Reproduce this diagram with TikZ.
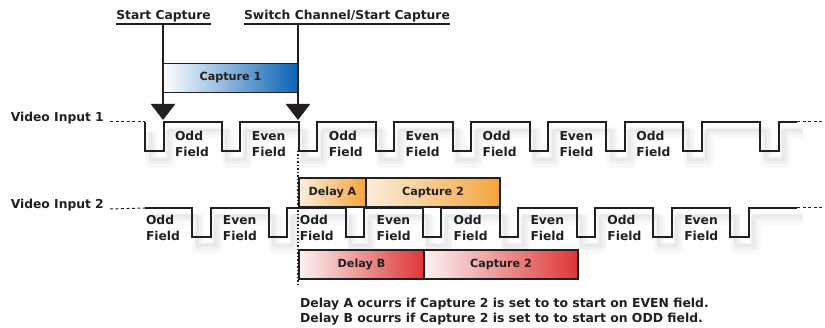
\documentclass[tikz,border=0pt]{standalone}
\usepackage{fontspec}
\setmainfont{DejaVu Sans}
\usetikzlibrary{arrows.meta, positioning, calc}
\definecolor{ink}{HTML}{231F20}
\definecolor{cblue}{HTML}{0B63B5}
\definecolor{corange}{HTML}{F3A43C}
\definecolor{lightorange}{HTML}{FCEEDC}
\definecolor{cred}{HTML}{DE3535}
\definecolor{lightred}{HTML}{FBF3F3}
\definecolor{cshade}{HTML}{8A8A8A}

\tikzset{
  lbl/.style={font=\bfseries\fontsize{12.3}{16}\selectfont, text=ink, inner sep=0pt},
  fieldlbl/.style={lbl, align=left},
  bar/.style={draw=ink, line width=1.8pt, inner sep=0pt, minimum height=29pt,
    font=\bfseries\fontsize{11.2}{13}\selectfont, text=ink},
  wave/.style={draw=ink, line width=2pt},
  shadeA/.style={draw=cshade, line width=12pt, opacity=0.05, line join=round},
  shadeB/.style={draw=cshade, line width=7pt, opacity=0.07, line join=round},
  shadeC/.style={draw=cshade, line width=3pt, opacity=0.08, line join=round},
  lead/.style={draw=ink, line width=1pt, dash pattern=on 3pt off 2.5pt},
  trig/.style={draw=ink, line width=2.6pt, -{Triangle[width=24pt,length=16pt]}},
  uline/.style={draw=ink, line width=1.5pt},
}

\begin{document}
\begin{tikzpicture}[x=1pt, y=-1pt]
  \useasboundingbox (0,0) rectangle (825,328);

  % trigger labels and their underlines
  \node[lbl, anchor=base] (start) at (163.5,19.5) {Start Capture};
  \node[lbl, anchor=base] (switch) at (347,19.5) {Switch Channel/Start Capture};
  \draw[uline] ([yshift=-4.5pt]start.base west) -- ([yshift=-4.5pt]start.base east);
  \draw[uline] ([yshift=-4.5pt]switch.base west) -- ([yshift=-4.5pt]switch.base east);
  \coordinate (u1) at ([yshift=-4.5pt]start.base);
  \coordinate (u2) at ([yshift=-4.5pt]switch.base);
  \coordinate (tip1) at (163,120);
  \coordinate (tip2) at (298,120);
  \draw[trig] (tip1 |- u1) -- (tip1);
  \draw[trig] (tip2 |- u2) -- (tip2);
  \node[bar, minimum width=135pt, left color=white, right color=cblue] (cap1) at (230.5,78) {Capture 1};

  % video input 1
  \node[lbl, anchor=base east] (vin1) at (104,122) {Video Input 1};
  \coordinate (w1) at (145,122);
  \coordinate (e1) at (797,122);
  \foreach \sty/\dx/\dy in {shadeA/6/11, shadeB/6/10, shadeC/5/9, wave/0/0}
    \draw[\sty] (145+\dx,122+\dy)
      \foreach \k in {1,...,8}{ -- ++(0,29) -- ++(18.5,0) -- ++(0,-29) -- ++(58.4,0)}
      -- ++(0,29) -- ++(18.5,0) -- ++(0,-29) -- (797+\dx,122+\dy);
  \draw[lead] ([xshift=6pt]vin1.base east) -- (w1);
  \draw[lead] (e1) -- ++(28,0);
  \foreach \k/\t in {0/Odd,1/Even,2/Odd,3/Even,4/Odd,5/Even,6/Odd}
    \node[fieldlbl] (fa\k) at (192+76.9*\k,144) {\t\\Field};

  % video input 2
  \node[lbl, anchor=base east] (vin2) at (104,209) {Video Input 2};
  \coordinate (w2) at (145,208);
  \coordinate (e2) at (797,208);
  \foreach \sty/\dx/\dy in {shadeA/6/11, shadeB/6/10, shadeC/5/9, wave/0/0}
    \draw[\sty] (145+\dx,208+\dy) -- ++(47,0)
      \foreach \k in {1,...,7}{ -- ++(0,29) -- ++(18.5,0) -- ++(0,-29) -- ++(58.4,0)}
      -- ++(0,29) -- ++(18.5,0) -- ++(0,-29) -- (797+\dx,208+\dy);
  \draw[lead] ([xshift=6pt]vin2.base east) -- (w2);
  \draw[lead] (e2) -- ++(28,0);
  \foreach \k/\t in {0/Odd,1/Even,2/Odd,3/Even,4/Odd,5/Even,6/Odd,7/Even}
    \node[fieldlbl] (fb\k) at (163+76.9*\k,228) {\t\\Field};

  % switch marker
  \coordinate (d0) at (298,151);
  \coordinate (d1) at (298,286);
  \draw[ink, line width=1.3pt, dash pattern=on 1.5pt off 2pt] (d0) -- (d1);

  % capture 2 timing
  \node[bar, minimum width=67pt, left color=lightorange, right color=corange] (delA) at (332.5,192.5) {Delay A};
  \node[bar, minimum width=134pt, left color=lightorange, right color=corange] (capA) at (433,192.5) {Capture 2};
  \node[bar, minimum width=125pt, left color=lightred, right color=cred] (delB) at (361.5,264.5) {Delay B};
  \node[bar, minimum width=154pt, left color=lightred, right color=cred] (capB) at (501,264.5) {Capture 2};

  \node[lbl, font=\bfseries\fontsize{12.4}{15}\selectfont, align=left, anchor=north west] (note) at (300,297.5)
    {Delay A ocurrs if Capture 2 is set to to start on EVEN field.\\Delay B ocurrs if Capture 2 is set to to start on ODD field.};
\end{tikzpicture}
\end{document}
